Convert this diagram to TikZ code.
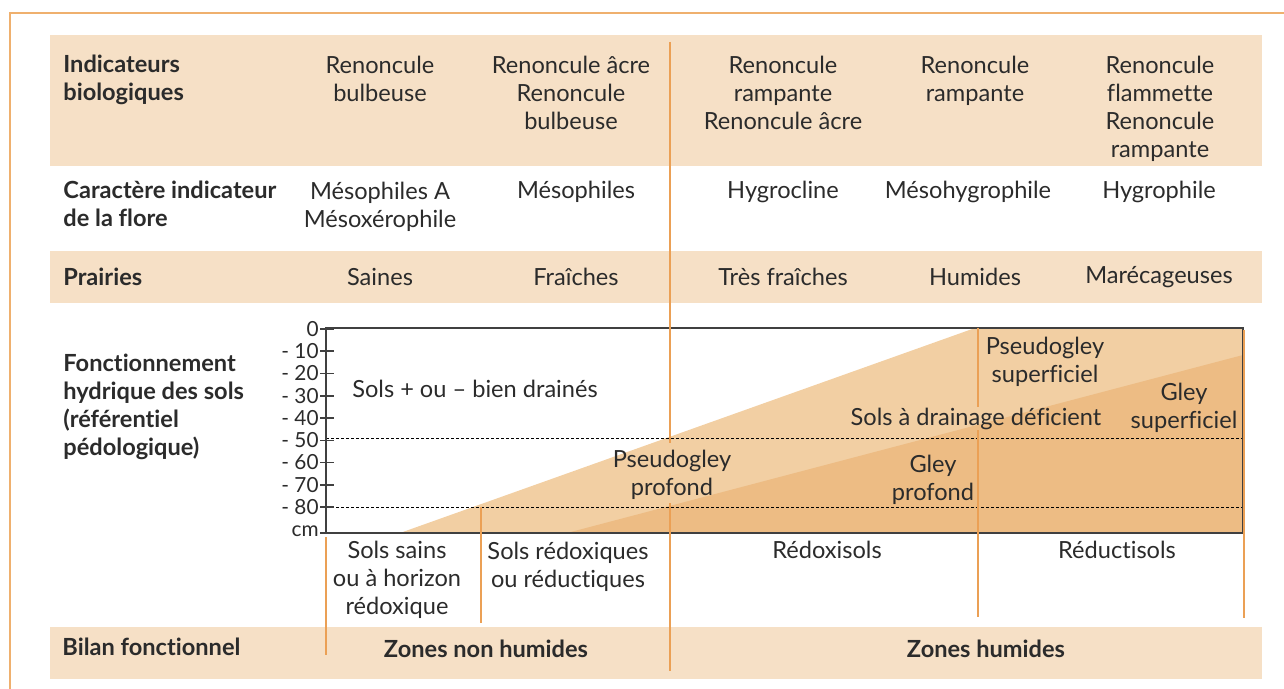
\documentclass[tikz,border=0pt]{standalone}
\usepackage{fontspec}
\setmainfont{Lato}[Ligatures={TeX,NoCommon}]
\usetikzlibrary{positioning}
\definecolor{bandfill}{HTML}{F6E0C6}
\definecolor{lightzone}{HTML}{F2CFA3}
\definecolor{darkzone}{HTML}{EDBC84}
\definecolor{myorange}{HTML}{EBA055}
\definecolor{frameorange}{HTML}{EFB06E}
\definecolor{txtdark}{HTML}{2B2B2B}
\newcommand{\cellfont}{\fontsize{11.8}{14}\selectfont}
\newcommand{\labelfont}{\fontsize{11.8}{14}\selectfont\bfseries}
\newcommand{\tickfont}{\fontsize{10.4}{11}\selectfont}
\tikzset{
  cell/.style={font=\cellfont, text=txtdark, align=center, inner sep=0pt, anchor=base},
  rowlabel/.style={font=\labelfont, text=txtdark, align=left, inner sep=0pt, anchor=base west},
  zonelabel/.style={font=\labelfont, text=txtdark, inner sep=0pt, anchor=base},
  ticklabel/.style={font=\tickfont, text=txtdark, inner sep=0pt, anchor=east},
  orangeline/.style={line width=1pt, color=myorange},
  axisline/.style={line width=0.75pt, color=txtdark!90},
  dotline/.style={line width=0.5pt, color=black, dash pattern=on 1.5pt off 1pt}
}
\begin{document}
\begin{tikzpicture}[x=0.5pt,y=-0.5pt]
  \useasboundingbox (0,0) rectangle (1284,689);
  % Outer frame
  \draw[line width=1pt, frameorange] (1284,13) -- (10,13) -- (10,689);

  % Shaded bands
  \fill[bandfill] (50,35) rectangle (1262,166);
  \fill[bandfill] (50,251) rectangle (1262,303);
  \fill[bandfill] (50,627) rectangle (1262,679);

  % Soil zones
  \fill[lightzone] (400,533) -- (975,328) -- (1243,328) -- (1243,533) -- cycle;
  \fill[darkzone] (567,533) -- (1243,355) -- (1243,533) -- cycle;
  \draw[dotline] (326,438) -- (1243,438);
  \draw[dotline] (326,507) -- (1243,507);
  \draw[axisline] (326,328) rectangle (1243,533);

  % Depth axis
  \foreach \lab [count=\k from 0] in {0,- 10,- 20,- 30,- 40,- 50,- 60,- 70,- 80} {
    \draw[axisline] (320,{329+22.25*\k}) -- (334,{329+22.25*\k});
    \node[ticklabel] at (319,{329+22.25*\k}) {\lab};
  }
  \draw[axisline] (320,533) -- (326,533);
  \node[ticklabel] (cm) at (319,531) {cm};

  % Separators
  \draw[orangeline] (670,42) -- (670,443);
  \draw[orangeline] (670,503) -- (670,671);
  \draw[orangeline] (978,328) -- (978,407);
  \draw[orangeline] (978,430) -- (978,617);
  \draw[orangeline] (1244,330) -- (1244,618);
  \draw[orangeline] (481,507) -- (481,623);
  \draw[orangeline] (326,537) -- (326,655);

  % Row labels (base = last line)
  \node[rowlabel] (indic) at (63,101) {Indicateurs\\biologiques};
  \node[rowlabel] (carac) at (63,227) {Caractère indicateur\\de la flore};
  \node[rowlabel] (prair) at (63,286) {Prairies};
  \node[rowlabel] (fonct) at (63,455) {Fonctionnement\\hydrique des sols\\(référentiel\\pédologique)};
  \node[rowlabel] (bilan) at (62,655) {Bilan fonctionnel};

  % Biological indicators
  \node[cell] (bio1) at (380,102) {Renoncule\\bulbeuse};
  \node[cell] (bio2) at (571,130) {Renoncule âcre\\Renoncule\\bulbeuse};
  \node[cell] (bio3) at (783,130) {Renoncule\\rampante\\Renoncule âcre};
  \node[cell] (bio4) at (975,102) {Renoncule\\rampante};
  \node[cell] (bio5) at (1160,158) {Renoncule\\flammette\\Renoncule\\rampante};

  % Flora character
  \node[cell] (flo1) at (380,228) {Mésophiles A\\Mésoxérophile};
  \node[cell] (flo2) at (576,199) {Mésophiles};
  \node[cell] (flo3) at (783,199) {Hygrocline};
  \node[cell] (flo4) at (968,199) {Mésohygrophile};
  \node[cell] (flo5) at (1159,199) {Hygrophile};

  % Meadows
  \node[cell] (pra1) at (380,286) {Saines};
  \node[cell] (pra2) at (576,286) {Fraîches};
  \node[cell] (pra3) at (783,286) {Très fraîches};
  \node[cell] (pra4) at (975,286) {Humides};
  \node[cell] (pra5) at (1159,284) {Marécageuses};

  % Chart texts
  \node[cell] (drained) at (475,397) {Sols + ou – bien drainés};
  \node[cell] (deficient) at (976,425) {Sols à drainage déficient};
  \node[cell] (pssup) at (1045,383) {Pseudogley\\superficiel};
  \node[cell] (gleysup) at (1184,429) {Gley\\superficiel};
  \node[cell] (psprof) at (672,495) {Pseudogley\\profond};
  \node[cell] (gleyprof) at (933,500) {Gley\\profond};

  % Soil classes
  \node[cell] (sains) at (397,614) {Sols sains\\ou à horizon\\rédoxique};
  \node[cell] (redox) at (568,587) {Sols rédoxiques\\ou réductiques};
  \node[cell] (redoxisols) at (827,558) {Rédoxisols};
  \node[cell] (reductisols) at (1117,558) {Réductisols};

  % Functional balance
  \node[zonelabel] (nonhum) at (486,657) {Zones non humides};
  \node[zonelabel] (hum) at (986,657) {Zones humides};
\end{tikzpicture}
\end{document}
